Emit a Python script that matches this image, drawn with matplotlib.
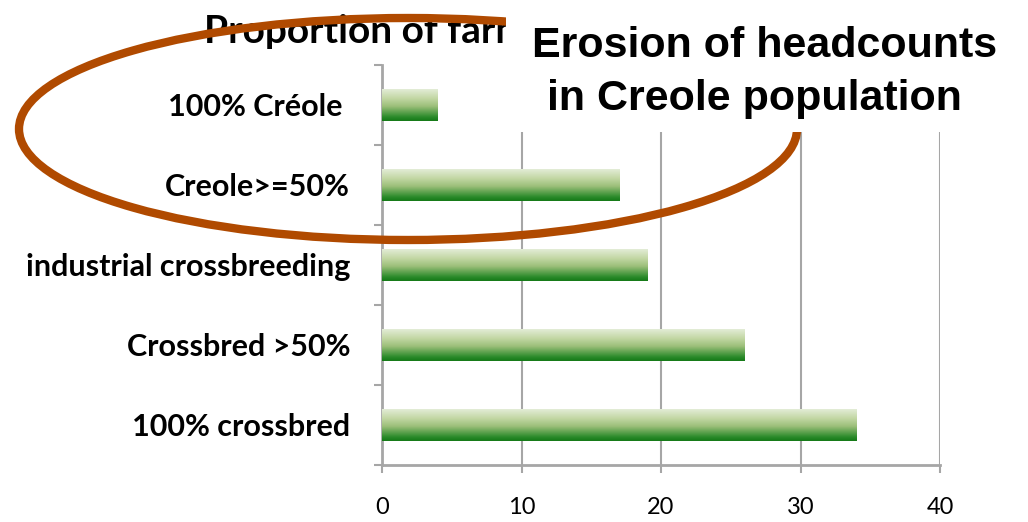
import numpy as np
import matplotlib
matplotlib.use("Agg")
import matplotlib.pyplot as plt
from matplotlib.patches import Ellipse, Rectangle
from matplotlib.colors import LinearSegmentedColormap

categories = ["100% Créole ", "Creole>=50%", "industrial crossbreeding", "Crossbred >50%", "100% crossbred"]
values = [4, 17, 19, 26, 34]
xticks = [0, 10, 20, 30, 40]
title = "Proportion of farms"
note_lines = ["Erosion of headcounts", "in Creole population"]

W, H = 1028, 522
fig = plt.figure(figsize=(W / 100, H / 100), dpi=100)
ax = fig.add_axes([382 / W, 1 - 465 / H, (940 - 382) / W, (465 - 65) / H])

n = len(categories)
ypos = np.arange(n)[::-1]  # first category on top
grid_c = "#a6a6a6"

cmap = LinearSegmentedColormap.from_list(
    "g", [(0.0, "#157a17"), (0.12, "#2a8a2a"), (0.45, "#9cbf7a"), (0.7, "#c4d8a6"), (1.0, "#e6efdc")])
grad = np.linspace(0, 1, 256).reshape(-1, 1)
bh = 0.41
bars = ax.barh(ypos, values, height=bh, color="none", edgecolor="none", zorder=3)
for b in bars:
    x0, y0 = b.get_x(), b.get_y()
    w, h = b.get_width(), b.get_height()
    im = ax.imshow(grad, cmap=cmap, aspect="auto", origin="lower",
                   extent=[x0, x0 + w, y0, y0 + h], zorder=3, interpolation="bilinear")
    im.set_clip_path(b)

ax.set_xlim(0, 40)
ax.set_ylim(-0.5, n - 0.5)
ax.set_xticks(xticks)
ax.set_xticklabels([str(t) for t in xticks], fontsize=17, family="Lato")
ax.set_yticks(ypos)
ax.set_yticklabels(categories, fontsize=22, fontweight="bold", family="Lato")
ax.set_yticks(np.arange(-0.5, n, 1.0), minor=True)
ax.tick_params(axis="y", which="major", length=0, pad=23)
ax.tick_params(axis="y", which="minor", length=6, width=1.5, color=grid_c)
ax.tick_params(axis="x", which="major", length=6, width=1.5, color=grid_c, pad=17)
ax.xaxis.grid(True, color=grid_c, lw=1.5, zorder=0)
ax.set_axisbelow(True)
for s in ["top", "right"]:
    ax.spines[s].set_visible(False)
for s in ["left", "bottom"]:
    ax.spines[s].set_color(grid_c)
    ax.spines[s].set_linewidth(2)

# title (partially hidden by note box)
fig.text(204 / W, 1 - 31 / H, title, fontsize=28, fontweight="bold", family="Lato",
         ha="left", va="center", zorder=1)

# ellipse highlighting Creole categories
ell = Ellipse((408 / W, 1 - 129 / H), 778 / W, 222 / H, transform=fig.transFigure,
              fill=False, edgecolor="#b04a00", lw=6, zorder=5)
fig.patches.append(ell)

# note box
box = Rectangle((506 / W, 1 - 132 / H), (W - 506) / W, 132 / H, transform=fig.transFigure,
                facecolor="white", edgecolor="none", zorder=6)
fig.patches.append(box)
fig.text(765 / W, 1 - 46 / H, note_lines[0], fontsize=31, fontweight="bold",
         family="Liberation Sans", ha="center", va="center", zorder=7)
fig.text(754 / W, 1 - 99 / H, note_lines[1], fontsize=31, fontweight="bold",
         family="Liberation Sans", ha="center", va="center", zorder=7)

fig.savefig("out.png", dpi=100)
